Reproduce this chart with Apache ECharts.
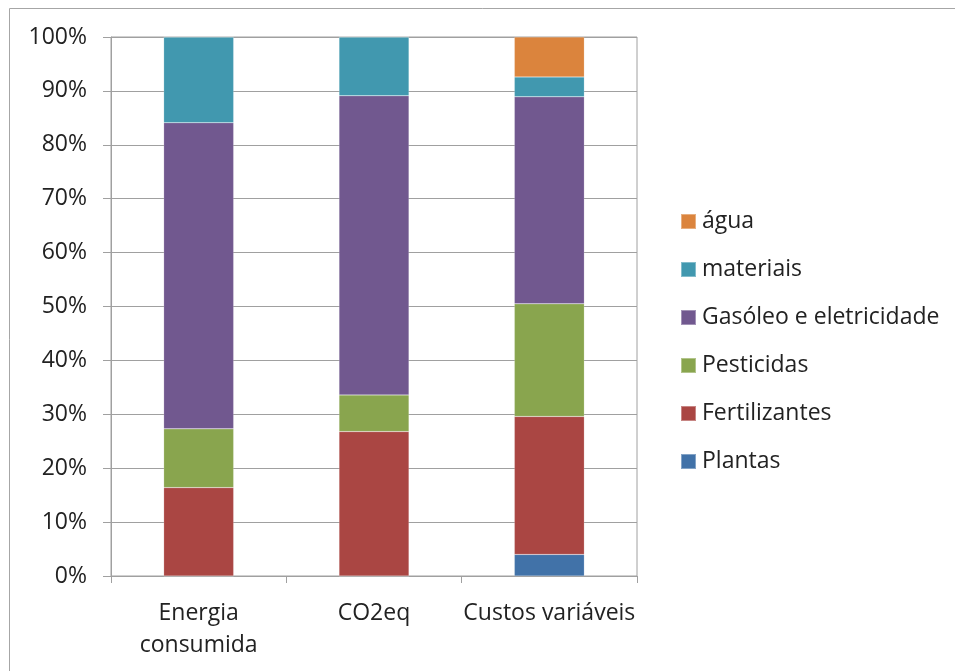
<!DOCTYPE html>
<html>
<head>
<meta charset="utf-8">
<script src="https://cdn.jsdelivr.net/npm/echarts@6/dist/echarts.min.js"></script>
<style>
html,body{margin:0;padding:0;background:#fff;}
#chart{width:955px;height:671px;}
</style>
</head>
<body>
<div id="chart"></div>
<script>
const categories = ['Energia\nconsumida', 'CO2eq', 'Custos variáveis'];
const plantas = [0, 0, 4.0];
const fertilizantes = [16.4, 26.8, 25.6];
const pesticidas = [10.9, 6.8, 20.9];
const gasoleo = [56.8, 55.5, 38.4];
const materiais = [15.9, 10.9, 3.7];
const agua = [0, 0, 7.4];
const yTicks = [0, 10, 20, 30, 40, 50, 60, 70, 80, 90, 100];

const seriesDefs = [
  {name: 'Plantas', data: plantas, color: '#4172A8'},
  {name: 'Fertilizantes', data: fertilizantes, color: '#AA4643'},
  {name: 'Pesticidas', data: pesticidas, color: '#89A54E'},
  {name: 'Gasóleo e eletricidade', data: gasoleo, color: '#71588F'},
  {name: 'materiais', data: materiais, color: '#4198AF'},
  {name: 'água', data: agua, color: '#DB843D'}
];

const font = '"Open Sans", Lato, sans-serif';
const chart = echarts.init(document.getElementById('chart'));
chart.setOption({
  animation: false,
  backgroundColor: '#fff',
  textStyle: {fontFamily: font},
  graphic: [
    {type: 'line', shape: {x1: 9.5, y1: 8.5, x2: 9.5, y2: 671}, style: {stroke: '#a6a6a6', lineWidth: 1}},
    {type: 'line', shape: {x1: 9.5, y1: 8.5, x2: 955, y2: 8.5}, style: {stroke: '#a6a6a6', lineWidth: 1}}
  ],
  grid: {left: 111, right: 318, top: 37, bottom: 95, show: true, borderColor: '#a0a0a0', borderWidth: 1},
  legend: {
    orient: 'vertical',
    left: 680,
    top: 210,
    padding: 0,
    itemWidth: 15,
    itemHeight: 15,
    itemGap: 25,
    icon: 'rect',
    textStyle: {fontSize: 23, color: '#222', fontFamily: font, padding: [0, 0, 0, 1]},
    data: ['água', 'materiais', 'Gasóleo e eletricidade', 'Pesticidas', 'Fertilizantes', 'Plantas']
  },
  xAxis: {
    type: 'category',
    data: categories,
    axisLine: {lineStyle: {color: '#a0a0a0', width: 1}},
    axisTick: {show: true, length: 7, lineStyle: {color: '#a0a0a0'}},
    axisLabel: {interval: 0, fontSize: 23, color: '#222', margin: 21, lineHeight: 32, fontFamily: font}
  },
  yAxis: {
    type: 'value',
    min: 0,
    max: 100,
    interval: 10,
    axisLine: {show: true, lineStyle: {color: '#a0a0a0', width: 1}},
    axisTick: {show: true, length: 8, lineStyle: {color: '#a0a0a0'}},
    splitLine: {lineStyle: {color: '#a0a0a0', width: 1}},
    axisLabel: {fontSize: 23, color: '#222', margin: 24, fontFamily: font,
      formatter: v => yTicks.includes(v) ? v + '%' : ''}
  },
  series: seriesDefs.map(s => ({
    name: s.name,
    type: 'bar',
    stack: 'total',
    barWidth: 70,
    data: s.data,
    itemStyle: {color: s.color, borderColor: 'rgba(255,255,255,0.35)', borderWidth: 0.5},
    emphasis: {disabled: true}
  }))
});
</script>
</body>
</html>
